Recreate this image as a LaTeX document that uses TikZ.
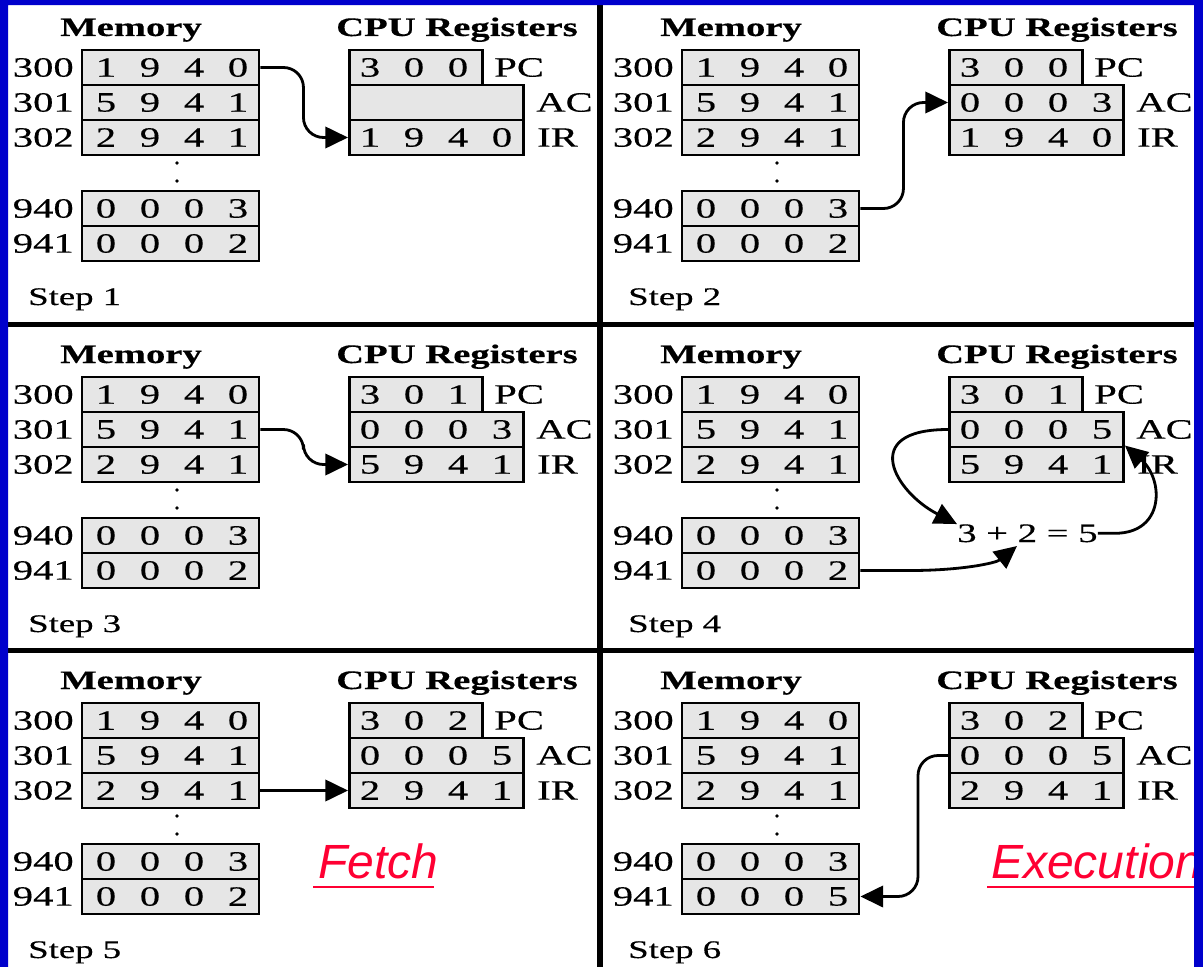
\documentclass[tikz,border=0pt]{standalone}
\usepackage{fontspec}
\setmainfont{Liberation Serif}[FakeStretch=1.45, FakeBold=0.4]
\newfontfamily\slidesans{Liberation Sans}
\usetikzlibrary{arrows.meta,calc}

\definecolor{framebl}{RGB}{0,0,204}
\definecolor{cellgray}{RGB}{230,230,230}
\definecolor{tagred}{RGB}{255,0,51}

\tikzset{
  cell/.style={draw, fill=cellgray, line width=2.2pt, inner sep=0pt, minimum height=26.25pt},
  txt/.style={inner sep=0pt, font=\fontsize{21}{25}\selectfont},
  eqtxt/.style={inner sep=0pt, font=\fontsize{20}{24}\selectfont},
  head/.style={inner sep=0pt, anchor=base, font=\fontsize{20}{24}\selectfont\bfseries},
  steplbl/.style={inner sep=0pt, anchor=base west, font=\fontsize{19}{23}\selectfont},
  conn/.style={line width=2.1pt, -{Triangle[length=17pt,width=16pt]}},
  tag/.style={inner sep=0pt, anchor=base west, text=tagred, font=\slidesans\itshape\fontsize{36}{40}\selectfont},
}

% one memory word: address, framed cell, four digits
\newcommand\memrow[4]{%
  \node[cell, minimum width={177*0.75pt}] (#1) at (170.5,#3) {};
  \node[txt, anchor=east] (#1a) at (74,#3) {#2};
  \foreach \d [count=\i from 0] in {#4} \node[txt] (#1d\i) at ({106+44*\i},#3) {\d};
}

% one CPU register: framed cell, digits, name to the right
\newcommand\regrow[6]{%
  \node[cell, minimum width={#2*0.75pt}, anchor=west] (#1) at (348,#3) {};
  \foreach \d [count=\i from 0] in {#4} \node[txt] (#1d\i) at ({370+44*\i},#3) {\d};
  \node[txt, anchor=west] (#1l) at (#6,#3) {#5};
}

% one step: memory column, register column, step caption
\newcommand\cpupanel[8]{%
  \begin{scope}[shift={(#2,#3)}]
    \node[head] (#1mh) at (131,36) {Memory};
    \node[head] (#1rh) at (457,36) {CPU Registers};
    \memrow{#1m300}{300}{67.5}{1,9,4,0}
    \memrow{#1m301}{301}{102.5}{5,9,4,1}
    \memrow{#1m302}{302}{137.5}{2,9,4,1}
    \memrow{#1m940}{940}{208.5}{0,0,0,3}
    \memrow{#1m941}{941}{243.5}{#4}
    \fill (177,163) circle[radius=1.4pt] (177,181) circle[radius=1.4pt];
    \regrow{#1pc}{133}{67.5}{#5}{PC}{494}
    \regrow{#1ac}{174}{102.5}{#6}{AC}{536}
    \regrow{#1ir}{174}{137.5}{#7}{IR}{537}
    \node[steplbl] (#1st) at (28,305) {Step #8};
  \end{scope}}

\begin{document}
\begin{tikzpicture}[x=0.75pt,y=-0.75pt]
  \useasboundingbox (0,0) rectangle (1203,967);
  \fill[white] (0,0) rectangle (1203,967);

  \cpupanel{p1}{0}{0}{0,0,0,2}{3,0,0}{}{1,9,4,0}{1}
  \cpupanel{p2}{600}{0}{0,0,0,2}{3,0,0}{0,0,0,3}{1,9,4,0}{2}
  \cpupanel{p3}{0}{327}{0,0,0,2}{3,0,1}{0,0,0,3}{5,9,4,1}{3}
  \cpupanel{p4}{600}{327}{0,0,0,2}{3,0,1}{0,0,0,5}{5,9,4,1}{4}
  \cpupanel{p5}{0}{653}{0,0,0,2}{3,0,2}{0,0,0,5}{2,9,4,1}{5}
  \cpupanel{p6}{600}{653}{0,0,0,5}{3,0,2}{0,0,0,5}{2,9,4,1}{6}

  % step 4: the addition
  \node[eqtxt, anchor=base west] (p4eq) at (957,542) {3 + 2 = 5};

  % data movements
  \draw[conn, rounded corners=15pt] (p1m300.east) -- ++(43,0) |- (p1ir.west);
  \draw[conn, rounded corners=15pt] (p2m940.east) -- ++(43,0) |- (p2ac.west);
  \draw[conn, rounded corners=15pt] (p3m301.east) -- ++(43,0) |- (p3ir.west);
  \draw[conn] (p4ac.west) .. controls +(-90,0) and +(-62,-32) .. (p4eq.north west);
  \draw[conn] (p4m941.east) -- ++(50,0) .. controls +(51,0) and +(-21,17) .. ($(p4eq.base west)+(60,4)$);
  \draw[conn] (p4eq.east) -- ++(17,0) .. controls +(50,0) and +(39,34) .. (p4ir.north east);
  \draw[conn] (p5m302.east) -- (p5ir.west);
  \draw[conn, rounded corners=15pt] (p6ac.west) -- ++(-30,0) |- (p6m941.east);

  % phase names
  \node[tag] (fetch) at (318,878) {Fetch};
  \draw[tagred, line width=1.6pt] (313,887) -- (434,887);
  \node[tag] (exec) at (991,878) {Execution};
  \draw[tagred, line width=1.6pt] (987,887) -- (1203,887);

  % panel dividers
  \draw[line width=4.5pt] (600,5) -- (600,967);
  \draw[line width=3.75pt] (8,324.5) -- (1194,324.5);
  \draw[line width=3.75pt] (8,650) -- (1194,650);

  % slide frame
  \fill[framebl] (0,0) rectangle (8,967) (0,0) rectangle (1203,5) (1194,0) rectangle (1203,967);
\end{tikzpicture}
\end{document}
